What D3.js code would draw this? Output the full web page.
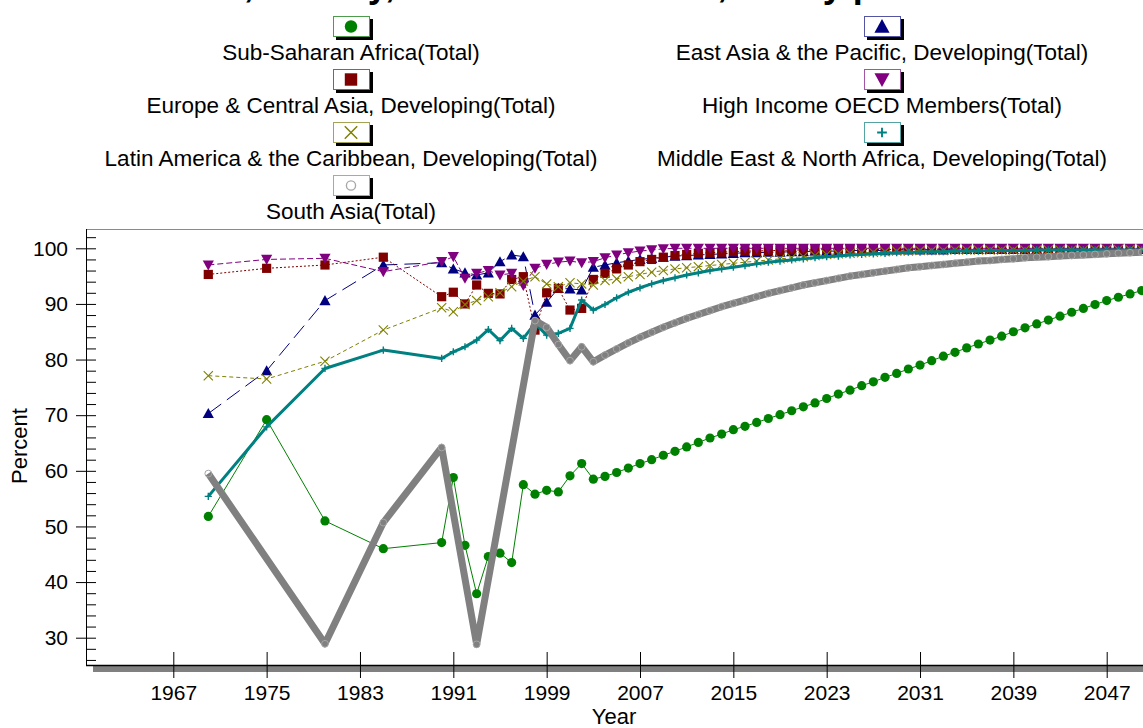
<!DOCTYPE html>
<html>
<head>
<meta charset="utf-8">
<script src="https://cdn.jsdelivr.net/npm/d3@7"></script>
<style>
  body { margin: 0; background: #fff; }
  svg { display: block; font-family: "Liberation Sans", Arial, sans-serif; }
</style>
</head>
<body>
<svg id="chart" width="1143" height="728"></svg>
<script>
// Years: sparse history, then yearly values through 2050
const years = [1970, 1975, 1980, 1985,
  1990, 1991, 1992, 1993, 1994, 1995, 1996, 1997, 1998, 1999,
  2000, 2001, 2002, 2003, 2004, 2005, 2006, 2007, 2008, 2009,
  2010, 2011, 2012, 2013, 2014, 2015, 2016, 2017, 2018, 2019,
  2020, 2021, 2022, 2023, 2024, 2025, 2026, 2027, 2028, 2029,
  2030, 2031, 2032, 2033, 2034, 2035, 2036, 2037, 2038, 2039,
  2040, 2041, 2042, 2043, 2044, 2045, 2046, 2047, 2048, 2049, 2050];

const subSaharanAfrica = [51.8, 69.2, 51.0, 46.0,
  47.1, 58.8, 46.6, 37.9, 44.6, 45.2, 43.5, 57.5, 55.8, 56.5,
  56.2, 59.1, 61.3, 58.5, 59.0, 59.7, 60.5, 61.3, 62.0, 62.8,
  63.5, 64.3, 65.1, 65.9, 66.6, 67.4, 68.0, 68.7, 69.4, 70.1,
  70.8, 71.5, 72.2, 73.0, 73.8, 74.5, 75.3, 76.0, 76.8, 77.5,
  78.3, 79.0, 79.8, 80.6, 81.3, 82.1, 82.8, 83.5, 84.2, 85.0,
  85.7, 86.4, 87.1, 87.8, 88.5, 89.2, 89.9, 90.6, 91.2, 91.8, 92.4];

const eastAsiaPacific = [70.3, 78.0, 90.6, 97.0,
  97.4, 96.3, 95.6, 95.2, 95.6, 97.6, 98.8, 98.5, 88.0, 90.3,
  92.8, 92.7, 92.5, 96.6, 97.0, 97.4, 97.7, 98.0, 98.2, 98.4,
  98.6, 98.7, 98.8, 98.9, 99.0, 99.1, 99.2, 99.2, 99.3, 99.3,
  99.4, 99.4, 99.5, 99.5, 99.5, 99.6, 99.6, 99.6, 99.6, 99.7,
  99.7, 99.7, 99.7, 99.7, 99.8, 99.8, 99.8, 99.8, 99.8, 99.8,
  99.8, 99.8, 99.8, 99.8, 99.8, 99.8, 99.8, 99.8, 99.8, 99.8, 99.8];

const europeCentralAsia = [95.3, 96.4, 97.0, 98.4,
  91.3, 92.1, 90.0, 93.4, 91.9, 91.8, 94.4, 94.9, 85.3, 92.0,
  92.8, 88.9, 89.2, 94.4, 95.5, 96.3, 97.0, 97.6, 98.0, 98.4,
  98.7, 98.9, 99.1, 99.2, 99.3, 99.4, 99.5, 99.5, 99.6, 99.6,
  99.7, 99.7, 99.7, 99.8, 99.8, 99.8, 99.8, 99.8, 99.8, 99.8,
  99.8, 99.8, 99.8, 99.8, 99.8, 99.8, 99.9, 99.9, 99.9, 99.9,
  99.9, 99.9, 99.9, 99.9, 99.9, 99.9, 99.9, 99.9, 99.9, 99.9, 99.9];

const highIncomeOECD = [97.0, 98.0, 98.2, 95.8,
  97.6, 98.5, 94.6, 95.5, 96.0, 95.2, 95.5, 93.3, 96.4, 97.1,
  97.5, 97.7, 97.4, 97.6, 98.3, 98.8, 99.2, 99.5, 99.7, 99.9,
  100.0, 100.0, 100.0, 100.0, 100.0, 100.0, 100.0, 100.0, 100.0, 100.0,
  100.0, 100.0, 100.0, 100.0, 100.0, 100.0, 100.0, 100.0, 100.0, 100.0,
  100.0, 100.0, 100.0, 100.0, 100.0, 100.0, 100.0, 100.0, 100.0, 100.0,
  100.0, 100.0, 100.0, 100.0, 100.0, 100.0, 100.0, 100.0, 100.0, 100.0, 100.0];

const latinAmerica = [77.1, 76.5, 79.7, 85.3,
  89.3, 88.6, 89.9, 90.6, 91.3, 92.0, 93.1, 94.1, 94.9, 93.6,
  93.1, 93.8, 93.6, 93.4, 94.2, 94.5, 94.9, 95.3, 95.7, 96.0,
  96.3, 96.5, 96.7, 96.9, 97.1, 97.3, 97.5, 97.7, 97.9, 98.1,
  98.3, 98.5, 98.7, 98.9, 99.0, 99.1, 99.2, 99.3, 99.4, 99.5,
  99.5, 99.6, 99.6, 99.6, 99.7, 99.7, 99.7, 99.7, 99.7, 99.7,
  99.7, 99.7, 99.7, 99.7, 99.7, 99.7, 99.8, 99.8, 99.8, 99.8, 99.8];

const middleEastNorthAfrica = [55.4, 67.9, 78.4, 81.7,
  80.2, 81.4, 82.3, 83.5, 85.4, 83.4, 85.6, 83.8, 86.5, 84.4,
  84.7, 85.6, 90.7, 88.9, 89.9, 91.1, 92.1, 92.9, 93.6, 94.2,
  94.7, 95.2, 95.6, 96.0, 96.3, 96.6, 96.9, 97.2, 97.5, 97.7,
  97.9, 98.1, 98.3, 98.5, 98.6, 98.8, 98.9, 99.0, 99.1, 99.2,
  99.3, 99.3, 99.4, 99.4, 99.5, 99.5, 99.5, 99.6, 99.6, 99.6,
  99.6, 99.7, 99.7, 99.7, 99.7, 99.7, 99.7, 99.7, 99.7, 99.7, 99.7];

const southAsia = [59.5, null, 28.9, 50.7,
  64.2, null, null, 28.8, null, null, null, null, 87.0, 85.8,
  82.7, 79.8, 82.3, 79.6, 80.8, 81.9, 83.0, 84.0, 84.9, 85.8,
  86.6, 87.4, 88.1, 88.8, 89.5, 90.1, 90.7, 91.3, 91.9, 92.4,
  92.9, 93.4, 93.8, 94.2, 94.6, 95.0, 95.3, 95.6, 95.9, 96.2,
  96.5, 96.7, 96.9, 97.1, 97.3, 97.5, 97.7, 97.8, 98.0, 98.1,
  98.3, 98.4, 98.5, 98.6, 98.7, 98.8, 98.9, 99.0, 99.1, 99.2, 99.3];

const yTicks = [30, 40, 50, 60, 70, 80, 90, 100];
const xTicks = [1967, 1975, 1983, 1991, 1999, 2007, 2015, 2023, 2031, 2039, 2047];

const series = [
  { name: "Sub-Saharan Africa(Total)", values: subSaharanAfrica, color: "#008000", box: "#4c9c4c",
    marker: "dot", width: 1, dash: null, col: 0, row: 0 },
  { name: "East Asia & the Pacific, Developing(Total)", values: eastAsiaPacific, color: "#000080", box: "#5454a4",
    marker: "up", width: 1, dash: "16,7", col: 1, row: 0 },
  { name: "Europe & Central Asia, Developing(Total)", values: europeCentralAsia, color: "#800000", box: "#a45454",
    marker: "square", width: 1, dash: "2,2", col: 0, row: 1 },
  { name: "High Income OECD Members(Total)", values: highIncomeOECD, color: "#800080", box: "#a454a4",
    marker: "down", width: 1, dash: "6,3", col: 1, row: 1 },
  { name: "Latin America & the Caribbean, Developing(Total)", values: latinAmerica, color: "#808000", box: "#a4a454",
    marker: "cross", width: 1, dash: "4,3", col: 0, row: 2 },
  { name: "Middle East & North Africa, Developing(Total)", values: middleEastNorthAfrica, color: "#008080", box: "#54a4a4",
    marker: "plus", width: 3, dash: null, col: 1, row: 2 },
  { name: "South Asia(Total)", values: southAsia, color: "#808080", box: "#a8a8a8",
    marker: "ring", width: 7, dash: null, col: 0, row: 3 }
];

const svg = d3.select("#chart");
const plot = { left: 86, right: 1143, top: 229, bottom: 665 };

const x = d3.scaleLinear().domain([1967, 2047]).range([173.3, 1106.7]);
const y = d3.scaleLinear().domain([30, 100]).range([637.7, 248.3]);

// Title sits mostly above the top edge; only its lowest strokes show
svg.append("text")
  .attr("x", 61).attr("y", -3)
  .attr("font-size", 36).attr("font-weight", "bold")
  .text("Safe Water, History, Forecast Scenario, Yearly percent");

// Plot frame
svg.append("line")
  .attr("x1", plot.left).attr("x2", plot.right)
  .attr("y1", plot.top + 0.5).attr("y2", plot.top + 0.5)
  .attr("stroke", "#8a8a8a").attr("stroke-width", 1);

svg.append("rect")
  .attr("x", 93).attr("y", plot.bottom + 1)
  .attr("width", plot.right - 93).attr("height", 6)
  .attr("fill", "#808080");

svg.append("line")
  .attr("x1", plot.left).attr("x2", plot.right)
  .attr("y1", plot.bottom + 0.5).attr("y2", plot.bottom + 0.5)
  .attr("stroke", "#000").attr("stroke-width", 1.5);

svg.append("line")
  .attr("x1", plot.left + 0.5).attr("x2", plot.left + 0.5)
  .attr("y1", plot.top).attr("y2", plot.bottom)
  .attr("stroke", "#000").attr("stroke-width", 1);

// Y axis: major ticks with labels, minor ticks every 2
const minorVals = d3.range(26, 103, 2).filter(v => v % 10 !== 0);
const yMinor = svg.append("g").attr("transform", "translate(96,0)")
  .call(d3.axisLeft(y).tickValues(minorVals).tickSize(10).tickFormat(""));
yMinor.select(".domain").remove();

const yMajor = svg.append("g").attr("transform", "translate(96,0)")
  .call(d3.axisLeft(y).tickValues(yTicks).tickSize(20).tickPadding(8).tickFormat(d3.format("d")));
yMajor.select(".domain").remove();
yMajor.selectAll("text").attr("font-size", 21).attr("fill", "#000")
  .attr("font-family", "'Liberation Sans', Arial, sans-serif");

[yMinor, yMajor].forEach(g => g.selectAll("line").attr("stroke", "#000"));

// X axis
const xAxis = svg.append("g").attr("transform", "translate(0,652)")
  .call(d3.axisBottom(x).tickValues(xTicks).tickSize(26).tickPadding(7).tickFormat(d3.format("d")));
xAxis.select(".domain").remove();
xAxis.selectAll("line").attr("stroke", "#000");
xAxis.selectAll("text").attr("font-size", 21).attr("fill", "#000")
  .attr("font-family", "'Liberation Sans', Arial, sans-serif");

// Axis titles
svg.append("text")
  .attr("x", 614).attr("y", 724)
  .attr("text-anchor", "middle").attr("font-size", 22)
  .text("Year");

svg.append("text")
  .attr("transform", "translate(27,446) rotate(-90)")
  .attr("text-anchor", "middle").attr("font-size", 22)
  .text("Percent");

// Marker shapes
function addMarker(g, type, color) {
  if (type === "dot") {
    g.append("circle").attr("r", 4.6).attr("fill", color);
  } else if (type === "up") {
    g.append("path").attr("d", "M0,-5.5L5.6,4.6L-5.6,4.6Z").attr("fill", color);
  } else if (type === "down") {
    g.append("path").attr("d", "M-5.6,-4.6L5.6,-4.6L0,5.5Z").attr("fill", color);
  } else if (type === "square") {
    g.append("rect").attr("x", -4.6).attr("y", -4.6).attr("width", 9.2).attr("height", 9.2).attr("fill", color);
  } else if (type === "cross") {
    g.append("path").attr("d", "M-4.6,-4.6L4.6,4.6M-4.6,4.6L4.6,-4.6")
      .attr("stroke", color).attr("stroke-width", 1.1).attr("fill", "none");
  } else if (type === "plus") {
    g.append("path").attr("d", "M-3.6,0H3.6M0,-3.6V3.6")
      .attr("stroke", color).attr("stroke-width", 1.4).attr("fill", "none");
  } else if (type === "ring") {
    g.append("circle").attr("r", 3.4).attr("fill", "none")
      .attr("stroke", "#a6a6a6").attr("stroke-width", 1);
  }
}

// Series lines and markers
const line = d3.line().x(d => x(d.year)).y(d => y(d.v));

series.forEach(s => {
  const pts = years.map((yr, i) => ({ year: yr, v: s.values[i] })).filter(d => d.v != null);
  const g = svg.append("g");
  g.append("path")
    .attr("d", line(pts))
    .attr("fill", "none")
    .attr("stroke", s.color)
    .attr("stroke-width", s.width)
    .attr("stroke-linejoin", "round")
    .attr("stroke-dasharray", s.dash);
  pts.forEach(d => {
    const m = g.append("g").attr("transform", `translate(${x(d.year)},${y(d.v)})`);
    addMarker(m, s.marker, s.color);
  });
});

// Legend: two centred columns, marker box above each label
const colCenter = [351, 882];
const rowTop = [16, 69, 122, 175];

series.forEach(s => {
  const cx = colCenter[s.col];
  const top = rowTop[s.row];
  const g = svg.append("g");
  g.append("rect")
    .attr("x", cx - 18 + 3).attr("y", top + 3)
    .attr("width", 37).attr("height", 21).attr("fill", "#000");
  g.append("rect")
    .attr("x", cx - 18 + 0.5).attr("y", top + 0.5)
    .attr("width", 36).attr("height", 20)
    .attr("fill", "#fff").attr("stroke", s.box).attr("stroke-width", 1);
  const m = g.append("g").attr("transform", `translate(${cx},${top + 10.5}) scale(1.35)`);
  addMarker(m, s.marker, s.color);
  g.append("text")
    .attr("x", cx).attr("y", top + 44)
    .attr("text-anchor", "middle").attr("font-size", 22.5)
    .text(s.name);
});
</script>
</body>
</html>
